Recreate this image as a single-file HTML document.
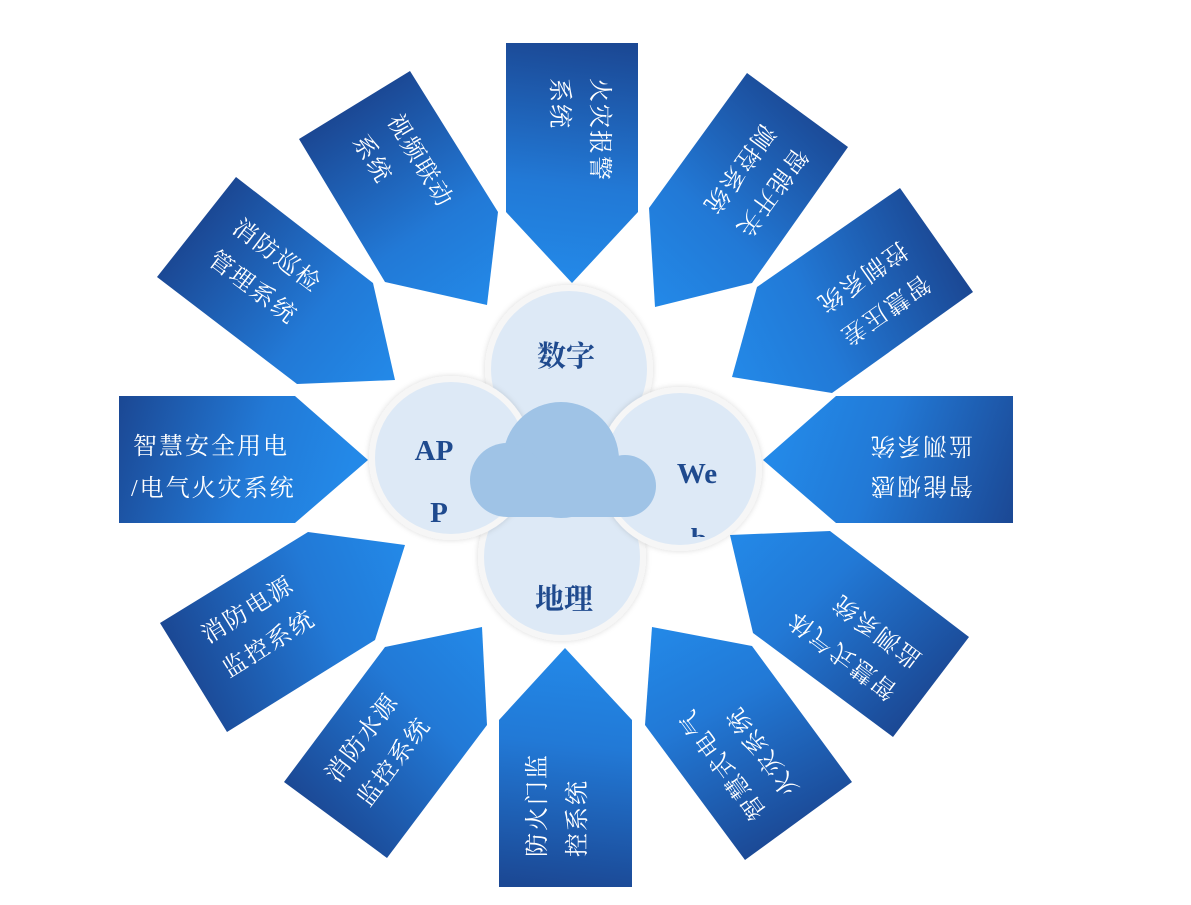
<!DOCTYPE html>
<html><head><meta charset="utf-8"><style>
html,body{margin:0;padding:0;background:#fff;}
svg{display:block;}
.t{font-family:"Liberation Serif","Noto Serif CJK SC",serif;font-size:24px;fill:#fff;letter-spacing:2px;}
.c{font-family:"Liberation Serif","Noto Serif CJK SC",serif;font-size:29px;font-weight:bold;fill:#1f4a8e;}
</style></head><body>
<svg width="1191" height="905" viewBox="0 0 1191 905" xmlns="http://www.w3.org/2000/svg">
<defs>
<linearGradient id="g1" gradientUnits="userSpaceOnUse" x1="119" y1="400" x2="350" y2="470"><stop offset="0" stop-color="#1b4894"/><stop offset="0.6" stop-color="#2279d6"/><stop offset="1" stop-color="#2389e8"/></linearGradient>
<linearGradient id="g2" gradientUnits="userSpaceOnUse" x1="196" y1="227" x2="390" y2="382"><stop offset="0" stop-color="#1b4894"/><stop offset="0.6" stop-color="#2279d6"/><stop offset="1" stop-color="#2389e8"/></linearGradient>
<linearGradient id="g3" gradientUnits="userSpaceOnUse" x1="354" y1="105" x2="487" y2="305"><stop offset="0" stop-color="#1b4894"/><stop offset="0.6" stop-color="#2279d6"/><stop offset="1" stop-color="#2389e8"/></linearGradient>
<linearGradient id="g4" gradientUnits="userSpaceOnUse" x1="600" y1="43" x2="572" y2="283"><stop offset="0" stop-color="#1b4894"/><stop offset="0.6" stop-color="#2279d6"/><stop offset="1" stop-color="#2389e8"/></linearGradient>
<linearGradient id="g5" gradientUnits="userSpaceOnUse" x1="830" y1="120" x2="655" y2="307"><stop offset="0" stop-color="#1b4894"/><stop offset="0.6" stop-color="#2279d6"/><stop offset="1" stop-color="#2389e8"/></linearGradient>
<linearGradient id="g6" gradientUnits="userSpaceOnUse" x1="960" y1="270" x2="732" y2="377"><stop offset="0" stop-color="#1b4894"/><stop offset="0.6" stop-color="#2279d6"/><stop offset="1" stop-color="#2389e8"/></linearGradient>
<linearGradient id="g7" gradientUnits="userSpaceOnUse" x1="1013" y1="520" x2="780" y2="440"><stop offset="0" stop-color="#1b4894"/><stop offset="0.6" stop-color="#2279d6"/><stop offset="1" stop-color="#2389e8"/></linearGradient>
<linearGradient id="g8" gradientUnits="userSpaceOnUse" x1="910" y1="720" x2="730" y2="535"><stop offset="0" stop-color="#1b4894"/><stop offset="0.6" stop-color="#2279d6"/><stop offset="1" stop-color="#2389e8"/></linearGradient>
<linearGradient id="g9" gradientUnits="userSpaceOnUse" x1="770" y1="850" x2="652" y2="627"><stop offset="0" stop-color="#1b4894"/><stop offset="0.6" stop-color="#2279d6"/><stop offset="1" stop-color="#2389e8"/></linearGradient>
<linearGradient id="g10" gradientUnits="userSpaceOnUse" x1="540" y1="887" x2="565" y2="648"><stop offset="0" stop-color="#1b4894"/><stop offset="0.6" stop-color="#2279d6"/><stop offset="1" stop-color="#2389e8"/></linearGradient>
<linearGradient id="g11" gradientUnits="userSpaceOnUse" x1="300" y1="800" x2="482" y2="627"><stop offset="0" stop-color="#1b4894"/><stop offset="0.6" stop-color="#2279d6"/><stop offset="1" stop-color="#2389e8"/></linearGradient>
<linearGradient id="g12" gradientUnits="userSpaceOnUse" x1="170" y1="640" x2="405" y2="545"><stop offset="0" stop-color="#1b4894"/><stop offset="0.6" stop-color="#2279d6"/><stop offset="1" stop-color="#2389e8"/></linearGradient>
<filter id="sh" x="-20%" y="-20%" width="140%" height="140%"><feDropShadow dx="0" dy="0" stdDeviation="3" flood-color="#000" flood-opacity="0.15"/></filter>
<clipPath id="cw"><rect x="600" y="390" width="160" height="147"/></clipPath>
</defs>

<polygon fill="url(#g1)" points="119,396 295,396 368,460 295,523 119,523"/>
<polygon fill="url(#g2)" points="236,177 373,283 395,380 297,384 157,277"/>
<polygon fill="url(#g3)" points="410,71 498,212 487,305 385,282 299,139"/>
<polygon fill="url(#g4)" points="506,43 638,43 638,212 572,283 506,212"/>
<polygon fill="url(#g5)" points="747,73 848,147 752,283 655,307 649,208"/>
<polygon fill="url(#g6)" points="900,188 973,292 832,393 732,377 757,287"/>
<polygon fill="url(#g7)" points="1013,396 1013,523 836,523 763,460 836,396"/>
<polygon fill="url(#g8)" points="830,531 969,637 893,737 753,633 730,535"/>
<polygon fill="url(#g9)" points="652,627 752,646 852,782 745,860 645,725"/>
<polygon fill="url(#g10)" points="499,720 565,648 632,720 632,887 499,887"/>
<polygon fill="url(#g11)" points="284,782 385,647 482,627 487,725 387,858"/>
<polygon fill="url(#g12)" points="160,623 308,532 405,545 375,640 227,732"/>

<g transform="translate(119,460)"><text class="t" x="14" y="-6">智慧安全用电</text><text class="t" x="12" y="36">/电气火灾系统</text></g>
<g transform="translate(196,227) rotate(37)"><text class="t" x="30" y="-18">消防巡检</text><text class="t" x="30" y="22">管理系统</text></g>
<g transform="translate(354,105) rotate(59)"><text class="t" x="30" y="-20">视频联动</text><text class="t" x="30" y="20">系统</text></g>
<g transform="translate(572,43) rotate(90)"><text class="t" x="35" y="-20">火灾报警</text><text class="t" x="35" y="20">系统</text></g>
<g transform="translate(797,110) rotate(126)"><text class="t" x="30" y="-20">智能开关</text><text class="t" x="30" y="20">测控系统</text></g>
<g transform="translate(936,240) rotate(145)"><text class="t" x="30" y="-20">智慧压差</text><text class="t" x="30" y="20">控制系统</text></g>
<g transform="translate(1013,460) rotate(180)"><text class="t" x="40" y="-18">智能烟感</text><text class="t" x="40" y="22">监测系统</text></g>
<g transform="translate(931,687) rotate(217)"><text class="t" x="25" y="-20">智慧式气体</text><text class="t" x="25" y="20">监测系统</text></g>
<g transform="translate(798,821) rotate(234)"><text class="t" x="25" y="-20">智慧式电气</text><text class="t" x="25" y="20">火灾系统</text></g>
<g transform="translate(565,887) rotate(270)"><text class="t" x="30" y="-20">防火门监</text><text class="t" x="30" y="20">控系统</text></g>
<g transform="translate(335,820) rotate(307)"><text class="t" x="30" y="-20">消防水源</text><text class="t" x="30" y="20">监控系统</text></g>
<g transform="translate(193,677) rotate(328)"><text class="t" x="30" y="-20">消防电源</text><text class="t" x="30" y="20">监控系统</text></g>

<circle cx="569" cy="369" r="81" fill="#dde9f6" stroke="#f6f6f6" stroke-width="6" filter="url(#sh)"/>
<text class="c" x="566" y="366" text-anchor="middle">数字</text>
<circle cx="562" cy="557" r="81" fill="#dde9f6" stroke="#f6f6f6" stroke-width="6" filter="url(#sh)"/>
<text class="c" x="564" y="609" text-anchor="middle">地理</text>
<circle cx="451" cy="458" r="79" fill="#dde9f6" stroke="#f6f6f6" stroke-width="6" filter="url(#sh)"/>
<text class="c" x="434" y="460" text-anchor="middle">AP</text><text class="c" x="439" y="522" text-anchor="middle">P</text>
<circle cx="680" cy="469" r="79" fill="#dde9f6" stroke="#f6f6f6" stroke-width="6" filter="url(#sh)"/>
<g clip-path="url(#cw)"><text class="c" x="697" y="483" text-anchor="middle">We</text><text class="c" x="699" y="548" text-anchor="middle">b</text></g>

<g fill="#9fc3e6">
<circle cx="561" cy="460" r="58"/>
<circle cx="507" cy="480" r="37"/>
<circle cx="625" cy="486" r="31"/>
<rect x="507" y="460" width="118" height="57"/>
</g>
</svg>
</body></html>
